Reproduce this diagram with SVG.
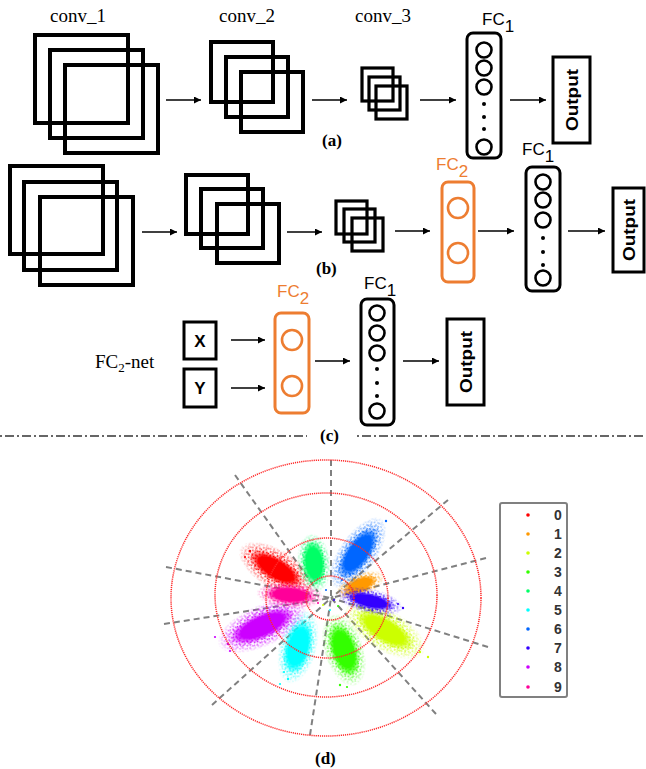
<svg xmlns="http://www.w3.org/2000/svg" width="646" height="769" viewBox="0 0 646 769">
<style>
.sq{fill:none;stroke:#000;stroke-width:4}
.sq3{fill:none;stroke:#000;stroke-width:3.2}
.box{fill:none;stroke:#000;stroke-width:3}
.org{fill:none;stroke:#ED7D31;stroke-width:3}
.cir{fill:none;stroke:#000;stroke-width:2.6}
.ocir{fill:none;stroke:#ED7D31;stroke-width:2.6}
.dot{fill:#000}
.conn{stroke:#000;stroke-width:1.6;fill:none;marker-end:url(#ah)}
.serif{font-family:"Liberation Serif","Times New Roman",serif;font-size:19px;fill:#000}
.lab{font-family:"Liberation Serif","Times New Roman",serif;font-size:17px;font-weight:bold;fill:#000}
.fc{font-family:"Liberation Sans",Arial,sans-serif;font-size:17px;fill:#000}
.fco{font-family:"Liberation Sans",Arial,sans-serif;font-size:17px;fill:#ED7D31}
.out{font-family:"Liberation Sans",Arial,sans-serif;font-size:17px;font-weight:bold;fill:#000}
.ring{fill:none;stroke:#ff2a2a;stroke-width:1.5;stroke-dasharray:1.2 0.9}
.ray{stroke:#808080;stroke-width:2;stroke-dasharray:6 4;fill:none}
.leg{font-family:"Liberation Sans",Arial,sans-serif;font-size:14px;font-weight:bold;fill:#333;text-anchor:middle}
.dd{stroke:#666;stroke-width:2;stroke-dasharray:2 3 9 3;fill:none}
</style>
<defs>
<marker id="ah" markerUnits="userSpaceOnUse" markerWidth="8" markerHeight="7" viewBox="0 0 10 10" refX="10" refY="5" orient="auto">
<path d="M0,0 L10,5 L0,10 z" fill="#000"/>
</marker>
<radialGradient id="rgA" cx="0.5" cy="0.5" r="0.5">
<stop offset="0" stop-color="#fff"/><stop offset="0.65" stop-color="#fff"/><stop offset="1" stop-color="#000"/>
</radialGradient>
<radialGradient id="rgB" cx="0.5" cy="0.5" r="0.5">
<stop offset="0" stop-color="#fff"/><stop offset="0.6" stop-color="#fff"/><stop offset="1" stop-color="#000"/>
</radialGradient>
<mask id="fadeA" maskContentUnits="objectBoundingBox"><rect width="1" height="1" fill="url(#rgA)"/></mask>
<mask id="fadeB" maskContentUnits="objectBoundingBox"><rect width="1" height="1" fill="url(#rgB)"/></mask>
<pattern id="dp" patternUnits="userSpaceOnUse" width="8" height="8">
<circle cx="1" cy="1.5" r="1" fill="#fff"/><circle cx="4.5" cy="0.8" r="1" fill="#fff"/>
<circle cx="7" cy="2.2" r="1" fill="#fff"/><circle cx="2.6" cy="4.1" r="1" fill="#fff"/>
<circle cx="5.6" cy="4.6" r="1" fill="#fff"/><circle cx="7.5" cy="6.6" r="1" fill="#fff"/>
<circle cx="1.2" cy="6.8" r="1" fill="#fff"/><circle cx="4.2" cy="7.2" r="1" fill="#fff"/>
<circle cx="5" cy="2.7" r="0.8" fill="#fff"/>
</pattern>
<mask id="dots" maskUnits="userSpaceOnUse" x="-60" y="-40" width="120" height="80"><rect x="-60" y="-40" width="120" height="80" fill="url(#dp)"/></mask>
</defs>
<rect width="646" height="769" fill="#fff"/>

<!-- Row (a) -->
<g id="a_conv1"><text class="serif" x="78" y="22" text-anchor="middle">conv_1</text>
<rect class="sq" x="35" y="35" width="93" height="88"/><rect class="sq" x="50" y="50" width="93" height="88"/><rect class="sq" x="65" y="65" width="93" height="88"/></g>
<g id="a_conv2"><text class="serif" x="247" y="22" text-anchor="middle">conv_2</text>
<rect class="sq" x="211" y="42" width="62" height="60"/><rect class="sq" x="226" y="57" width="62" height="60"/><rect class="sq" x="241" y="72" width="62" height="60"/></g>
<g id="a_conv3"><text class="serif" x="383" y="22" text-anchor="middle">conv_3</text>
<rect class="sq3" x="362" y="68" width="31" height="33"/><rect class="sq3" x="369" y="77" width="31" height="33"/><rect class="sq3" x="376" y="86" width="31" height="33"/></g>
<g id="a_fc1"><text class="fc" x="482" y="25">FC<tspan dy="7">1</tspan></text>
<rect class="box" x="467" y="33" width="34" height="125" rx="6"/>
<circle class="cir" cx="484" cy="50" r="7.5"/><circle class="cir" cx="484" cy="68" r="7.5"/><circle class="cir" cx="484" cy="87" r="7.5"/>
<circle class="dot" cx="484" cy="104" r="2"/><circle class="dot" cx="484" cy="117" r="2"/><circle class="dot" cx="484" cy="129" r="2"/>
<circle class="cir" cx="484" cy="147" r="7.5"/></g>
<g id="a_out"><rect class="box" x="553" y="57" width="37" height="86"/>
<text class="out" transform="translate(571.5,100) rotate(-90)" text-anchor="middle" dy="6" textLength="62" lengthAdjust="spacingAndGlyphs">Output</text></g>
<text class="lab" x="322" y="146">(a)</text>

<!-- Row (b) -->
<g id="b_conv1"><rect class="sq" x="10" y="166" width="93" height="88"/><rect class="sq" x="24" y="182" width="93" height="88"/><rect class="sq" x="40" y="197" width="93" height="88"/></g>
<g id="b_conv2"><rect class="sq" x="186" y="175" width="62" height="59"/><rect class="sq" x="201" y="189" width="62" height="59"/><rect class="sq" x="217" y="204" width="62" height="59"/></g>
<g id="b_conv3"><rect class="sq3" x="336" y="201" width="31" height="33"/><rect class="sq3" x="344" y="209" width="31" height="33"/><rect class="sq3" x="352" y="218" width="31" height="33"/></g>
<g id="b_fc2"><text class="fco" x="436" y="170">FC<tspan dy="7">2</tspan></text>
<rect class="org" x="442" y="182" width="32" height="100" rx="6"/>
<circle class="ocir" cx="458" cy="208" r="10"/><circle class="ocir" cx="458" cy="253" r="10"/></g>
<g id="b_fc1"><text class="fc" x="522" y="155">FC<tspan dy="7">1</tspan></text>
<rect class="box" x="526" y="167" width="34" height="124" rx="6"/>
<circle class="cir" cx="543" cy="182" r="7.5"/><circle class="cir" cx="543" cy="200" r="7.5"/><circle class="cir" cx="543" cy="220" r="7.5"/>
<circle class="dot" cx="543" cy="238" r="2"/><circle class="dot" cx="543" cy="252" r="2"/><circle class="dot" cx="543" cy="265" r="2"/>
<circle class="cir" cx="543" cy="278" r="7.5"/></g>
<g id="b_out"><rect class="box" x="613" y="188" width="31" height="84"/>
<text class="out" transform="translate(629,230) rotate(-90)" text-anchor="middle" dy="6" textLength="62" lengthAdjust="spacingAndGlyphs">Output</text></g>
<text class="lab" x="316" y="274">(b)</text>

<!-- Row (c) -->
<g id="c_label"><text class="serif" x="95" y="368" font-size="18">FC<tspan font-size="13" dy="4">2</tspan><tspan dy="-4">-net</tspan></text></g>
<g id="c_x"><rect class="box" x="184" y="322" width="32" height="37"/><text class="out" x="200" y="347" text-anchor="middle" font-size="16">X</text></g>
<g id="c_y"><rect class="box" x="184" y="369" width="32" height="38"/><text class="out" x="200" y="394" text-anchor="middle" font-size="16">Y</text></g>
<g id="c_fc2"><text class="fco" x="277" y="297">FC<tspan dy="7">2</tspan></text>
<rect class="org" x="275" y="313" width="34" height="100" rx="6"/>
<circle class="ocir" cx="292" cy="340" r="10"/><circle class="ocir" cx="292" cy="386" r="10"/></g>
<g id="c_fc1"><text class="fc" x="364" y="289">FC<tspan dy="7">1</tspan></text>
<rect class="box" x="361" y="299" width="33" height="126" rx="6"/>
<circle class="cir" cx="377" cy="313" r="7.5"/><circle class="cir" cx="377" cy="333" r="7.5"/><circle class="cir" cx="377" cy="353" r="7.5"/>
<circle class="dot" cx="377" cy="369" r="2"/><circle class="dot" cx="377" cy="383" r="2"/><circle class="dot" cx="377" cy="396" r="2"/>
<circle class="cir" cx="377" cy="411" r="7.5"/></g>
<g id="c_out"><rect class="box" x="447" y="319" width="37" height="86"/>
<text class="out" transform="translate(465.5,362) rotate(-90)" text-anchor="middle" dy="6" textLength="62" lengthAdjust="spacingAndGlyphs">Output</text></g>

<g id="connectors">
<line class="conn" x1="166" y1="100" x2="201" y2="100"/>
<line class="conn" x1="312" y1="100" x2="347" y2="100"/>
<line class="conn" x1="420" y1="100" x2="456" y2="100"/>
<line class="conn" x1="510" y1="100" x2="546" y2="100"/>
<line class="conn" x1="142" y1="232" x2="177" y2="232"/>
<line class="conn" x1="287" y1="232" x2="322" y2="232"/>
<line class="conn" x1="395" y1="231" x2="430" y2="231"/>
<line class="conn" x1="478" y1="231" x2="514" y2="231"/>
<line class="conn" x1="568" y1="231" x2="605" y2="231"/>
<line class="conn" x1="231" y1="340" x2="265" y2="340"/>
<line class="conn" x1="231" y1="388" x2="265" y2="388"/>
<line class="conn" x1="315" y1="361" x2="350" y2="361"/>
<line class="conn" x1="403" y1="361" x2="439" y2="361"/>
</g>

<g id="divider">
<line class="dd" x1="0" y1="436" x2="307" y2="436"/>
<line class="dd" x1="357" y1="436" x2="646" y2="436"/>
<text class="lab" x="320" y="441">(c)</text>
</g>

<!-- (d) plot -->
<g id="rays">
<line class="ray" x1="331" y1="460" x2="331" y2="598"/>
<line class="ray" x1="448" y1="500" x2="331" y2="598"/>
<line class="ray" x1="486" y1="558" x2="331" y2="598"/>
<line class="ray" x1="488" y1="647" x2="331" y2="598"/>
<line class="ray" x1="436" y1="714" x2="331" y2="598"/>
<line class="ray" x1="310" y1="735" x2="331" y2="598"/>
<line class="ray" x1="212" y1="705" x2="331" y2="598"/>
<line class="ray" x1="164" y1="624" x2="331" y2="598"/>
<line class="ray" x1="166" y1="567" x2="331" y2="598"/>
<line class="ray" x1="235" y1="475" x2="318" y2="592"/>
</g>

<g id="scatter">
<g transform="translate(276,569) rotate(31)"><g mask="url(#dots)"><ellipse rx="42" ry="20" fill="#ff0000" mask="url(#fadeB)"/></g><ellipse rx="30" ry="12" fill="#ff0000" mask="url(#fadeA)"/></g>
<g transform="translate(360,585) rotate(-22)"><g mask="url(#dots)"><ellipse rx="26" ry="12" fill="#ff9900" mask="url(#fadeB)"/></g><ellipse rx="18" ry="8" fill="#ff9900" mask="url(#fadeA)"/></g>
<g transform="translate(385,630) rotate(31)"><g mask="url(#dots)"><ellipse rx="46" ry="21" fill="#ccff00" mask="url(#fadeB)"/></g><ellipse rx="33" ry="13" fill="#ccff00" mask="url(#fadeA)"/></g>
<g transform="translate(344,650) rotate(72)"><g mask="url(#dots)"><ellipse rx="38" ry="20" fill="#33ff00" mask="url(#fadeB)"/></g><ellipse rx="28" ry="14" fill="#33ff00" mask="url(#fadeA)"/></g>
<g transform="translate(314,563) rotate(84)"><g mask="url(#dots)"><ellipse rx="30" ry="17" fill="#00ff66" mask="url(#fadeB)"/></g><ellipse rx="23" ry="12" fill="#00ff66" mask="url(#fadeA)"/></g>
<g transform="translate(298,647) rotate(105)"><g mask="url(#dots)"><ellipse rx="38" ry="19" fill="#00ffff" mask="url(#fadeB)"/></g><ellipse rx="28" ry="14" fill="#00ffff" mask="url(#fadeA)"/></g>
<g transform="translate(358,553) rotate(-55)"><g mask="url(#dots)"><ellipse rx="42" ry="19" fill="#0066ff" mask="url(#fadeB)"/></g><ellipse rx="30" ry="13" fill="#0066ff" mask="url(#fadeA)"/></g>
<g transform="translate(370,601) rotate(13)"><g mask="url(#dots)"><ellipse rx="34" ry="13" fill="#3300ff" mask="url(#fadeB)"/></g><ellipse rx="25" ry="8" fill="#3300ff" mask="url(#fadeA)"/></g>
<g transform="translate(262,626) rotate(-24)"><g mask="url(#dots)"><ellipse rx="48" ry="21" fill="#cc00ff" mask="url(#fadeB)"/></g><ellipse rx="35" ry="13" fill="#cc00ff" mask="url(#fadeA)"/></g>
<g transform="translate(290,595) rotate(4)"><g mask="url(#dots)"><ellipse rx="34" ry="14" fill="#ff0099" mask="url(#fadeB)"/></g><ellipse rx="25" ry="9" fill="#ff0099" mask="url(#fadeA)"/></g>
<g id="strays">
<circle cx="386" cy="521" r="1.2" fill="#0066ff"/><circle cx="250" cy="551" r="1.2" fill="#ff0000"/><circle cx="245" cy="557" r="1.1" fill="#ff0000"/>
<circle cx="228" cy="644" r="1.2" fill="#cc00ff"/><circle cx="215" cy="637" r="1.1" fill="#cc00ff"/><circle cx="230" cy="651" r="1.1" fill="#cc00ff"/>
<circle cx="288" cy="679" r="1.2" fill="#00ffff"/><circle cx="284" cy="672" r="1.1" fill="#00ffff"/><circle cx="280" cy="684" r="1.1" fill="#00ffff"/>
<circle cx="340" cy="685" r="1.2" fill="#33ff00"/><circle cx="347" cy="687" r="1.1" fill="#33ff00"/>
<circle cx="420" cy="652" r="1.2" fill="#ccff00"/><circle cx="428" cy="657" r="1.2" fill="#ccff00"/>
<circle cx="403" cy="608" r="1.2" fill="#3300ff"/><circle cx="398" cy="604" r="1.1" fill="#3300ff"/>
<circle cx="323" cy="605" r="1" fill="#ccff00"/><circle cx="330" cy="610" r="1" fill="#00ffff"/><circle cx="334" cy="600" r="1" fill="#3300ff"/>
<circle cx="326" cy="590" r="1" fill="#0066ff"/><circle cx="318" cy="603" r="1" fill="#ff0099"/><circle cx="338" cy="606" r="1" fill="#33ff00"/>
<circle cx="350" cy="574" r="1" fill="#0066ff"/><circle cx="342" cy="580" r="1" fill="#0066ff"/>
</g>
</g>

<g id="rings">
<ellipse class="ring" cx="326" cy="598" rx="155" ry="138"/>
<ellipse class="ring" cx="326" cy="595" rx="111" ry="102"/>
<ellipse class="ring" cx="327" cy="598" rx="61" ry="60"/>
<ellipse class="ring" cx="330" cy="598" rx="24" ry="22"/>
</g>

<g id="legend">
<rect x="500" y="503" width="67" height="194" rx="2" fill="#fff" stroke="#808080" stroke-width="2"/>
<circle cx="528" cy="515" r="1.8" fill="#ff0000"/><text class="leg" x="558" y="520">0</text>
<circle cx="528" cy="534" r="1.8" fill="#ff9900"/><text class="leg" x="558" y="539">1</text>
<circle cx="528" cy="553" r="1.8" fill="#ccff00"/><text class="leg" x="558" y="558">2</text>
<circle cx="528" cy="572" r="1.8" fill="#33ff00"/><text class="leg" x="558" y="577">3</text>
<circle cx="528" cy="591" r="1.8" fill="#00ff66"/><text class="leg" x="558" y="596">4</text>
<circle cx="528" cy="610" r="1.8" fill="#00ffff"/><text class="leg" x="558" y="615">5</text>
<circle cx="528" cy="629" r="1.8" fill="#0066ff"/><text class="leg" x="558" y="634">6</text>
<circle cx="528" cy="648" r="1.8" fill="#3300ff"/><text class="leg" x="558" y="653">7</text>
<circle cx="528" cy="667" r="1.8" fill="#cc00ff"/><text class="leg" x="558" y="672">8</text>
<circle cx="528" cy="687" r="1.8" fill="#ff0099"/><text class="leg" x="558" y="692">9</text>
</g>
<text class="lab" x="315" y="764">(d)</text>
</svg>
